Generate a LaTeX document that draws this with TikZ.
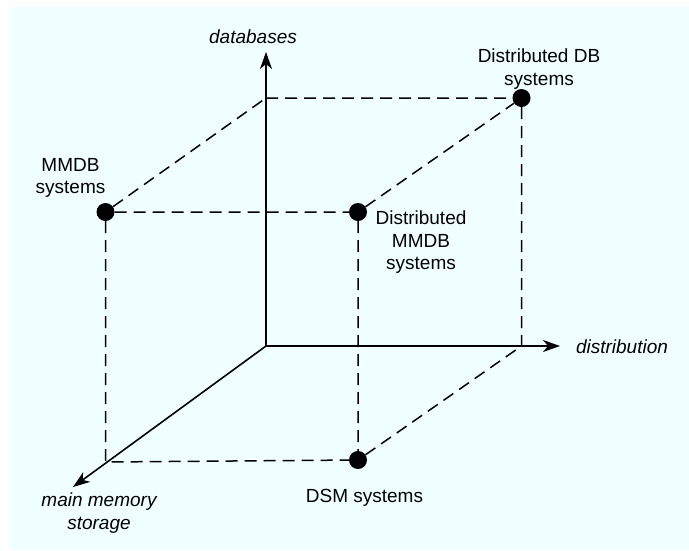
\documentclass[tikz,border=0pt]{standalone}
\usepackage{fontspec}
\setmainfont{Liberation Sans}
\usepackage{tikz}
\usetikzlibrary{arrows.meta}

\definecolor{paleblue}{RGB}{240,255,255}

\begin{document}
\begin{tikzpicture}[x=1pt,y=-1pt,>={Stealth[length=17pt,width=12pt,inset=5pt]},
                    axis/.style={line width=1.6pt},
                    proj/.style={line width=1.5pt,dash pattern=on 12pt off 7pt},
                    dot/.style={circle,fill=black,inner sep=0pt,minimum size=18pt},
                    lbl/.style={font=\fontsize{19}{22.5}\selectfont,align=center,inner sep=0pt},
                    axlbl/.style={lbl,font=\fontsize{19}{22.5}\selectfont\itshape}]

  % page and background
  \fill[white] (0,0) rectangle (689,550);
  \fill[paleblue] (10,7) rectangle (689,550);
  \useasboundingbox (0,0) rectangle (689,550);

  % axes
  \coordinate (orig)   at (266,346);
  \coordinate (dbtip)  at (266,52);
  \coordinate (distip) at (560,346);
  \coordinate (mmtip)  at (73,487);

  % cube corners on the axes
  \coordinate (dbc)    at (266,98);
  \coordinate (distc)  at (521.5,346);
  \coordinate (mmc)    at (105.5,462);

  % systems
  \node[dot] (mmdb)  at (105.5,212) {};
  \node[dot] (dmmdb) at (358,212)   {};
  \node[dot] (ddb)   at (521.5,98)  {};
  \node[dot] (dsm)   at (358,460)   {};

  % labels
  \node[axlbl] (dblbl)   at (253,37)  {databases};
  \node[axlbl] (distlbl) at (622,347) {distribution};
  \node[axlbl] (mmlbl)   at (99,513)  {main memory\\storage};

  \node[lbl] (mmdblbl)  at (70.5,178)  {MMDB\\systems};
  \node[lbl] (ddblbl)   at (539,69)    {Distributed DB\\systems};
  \node[lbl] (dmmdblbl) at (421,242.5) {Distributed\\MMDB\\systems};
  \node[lbl] (dsmlbl)   at (364.5,498) {DSM systems};

  % dashed edges of the cube
  \draw[proj] (dbc) -- (ddb) -- (distc)
              (mmdb) -- (dbc)
              (mmdb) -- (dmmdb) -- (ddb)
              (mmdb) -- (mmc) -- (dsm) -- (distc)
              (dmmdb) -- (dsm);

  \draw[axis,->] (orig) -- (dbtip);
  \draw[axis,->] (orig) -- (distip);
  \draw[axis,->] (orig) -- (mmtip);
\end{tikzpicture}
\end{document}
